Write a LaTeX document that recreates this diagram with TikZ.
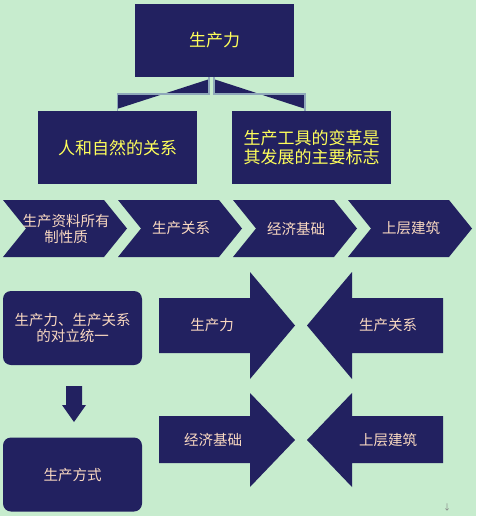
\documentclass[tikz,border=0pt]{standalone}
\usepackage{fontspec}
\newfontfamily\cjk{Noto Sans CJK SC}
\usetikzlibrary{positioning,calc}
\definecolor{navy}{RGB}{34,33,96}
\definecolor{bggreen}{RGB}{199,236,206}
\definecolor{linkgrey}{RGB}{143,168,186}
\definecolor{yellowtxt}{RGB}{255,255,90}
\definecolor{peachtxt}{RGB}{250,217,193}

\begin{document}
\begin{tikzpicture}[x=1pt,y=-1pt]
\tikzstyle{box} = [
	shape=rectangle,
	fill=navy, %dark blue boxes
	minimum width=159pt,
	minimum height=73pt,
	inner sep=0pt,
	align=center,
	text=yellowtxt,
	font=\cjk\fontsize{17}{19}\selectfont
];
\tikzstyle{roundbox} = [
	box,
	rounded corners=8pt,
	minimum width=139pt,
	minimum height=74pt,
	text=peachtxt,
	font=\cjk\fontsize{14.5}{16}\selectfont
];
\tikzstyle{label} = [
	inner sep=0pt,
	align=center,
	text=peachtxt,
	font=\cjk\fontsize{14.5}{16}\selectfont
];
\tikzstyle{elbow} = [draw=linkgrey, line width=1.5pt];

\fill[bggreen] (0,0) rectangle (476,516);
\useasboundingbox (0,0) rectangle (476,516);

% top tree
\node[box](PF) at (214.5, 40.5) {生产力};
\node[box](MN) at (117.5, 147.5) {人和自然的关系};
\node[box](TL) at (311.5, 147.5) {生产工具的变革是\\其发展的主要标志};

\coordinate (PFl) at ([xshift=-5.5pt]PF.south);
\coordinate (PFr) at ([xshift=-0.5pt]PF.south);
\coordinate (TLn) at ([xshift=-6.5pt]TL.north);

\fill[navy] ($(MN.north)+(0,-2)$) -- ($(MN.north)+(0,-17)$) -- ($(PFl)+(0,17)$) -- ($(PFl)+(0,2)$) -- cycle;
\fill[navy] ($(TLn)+(0,-2)$) -- ($(TLn)+(0,-17)$) -- ($(PFr)+(0,17)$) -- ($(PFr)+(0,2)$) -- cycle;
\draw[elbow] (MN.north) |- ($(PFl)+(0,17)$) -- (PFl);
\draw[elbow] (TLn) |- ($(PFr)+(0,17)$) -- (PFr);

% chevron row
\fill[navy] (3,200) -- (104,200) -- (127,228.5) -- (104,257) -- (3,257) -- (26,228.5) -- cycle;
\fill[navy] (118,200) -- (219,200) -- (242,228.5) -- (219,257) -- (118,257) -- (141,228.5) -- cycle;
\fill[navy] (233,200) -- (334,200) -- (357,228.5) -- (334,257) -- (233,257) -- (256,228.5) -- cycle;
\fill[navy] (348,200) -- (449,200) -- (472,228.5) -- (449,257) -- (348,257) -- (371,228.5) -- cycle;
\node[label](OW) at (66, 228.5) {生产资料所有\\制性质};
\node[label](RP) at (181, 228.5) {生产关系};
\node[label](EB) at (296, 228.5) {经济基础};
\node[label](SS) at (411, 228.5) {上层建筑};

% bottom left
\node[roundbox](UN) at (72.5, 328) {生产力、生产关系\\的对立统一};
\node[roundbox](MP) at (72.5, 474.5) {生产方式};
\fill[navy] (66,386) -- (82,386) -- (82,405) -- (86,405) -- (74,422) -- (62,405) -- (66,405) -- cycle;

% big arrows
\fill[navy] (159,298) -- (250,298) -- (250,272) -- (295,325.5) -- (250,379) -- (250,353) -- (159,353) -- cycle;
\fill[navy] (443,298) -- (352,298) -- (352,272) -- (307,325.5) -- (352,379) -- (352,353) -- (443,353) -- cycle;
\fill[navy] (159,416) -- (250,416) -- (250,393) -- (295,440) -- (250,487) -- (250,463) -- (159,463) -- cycle;
\fill[navy] (443,416) -- (352,416) -- (352,393) -- (307,440) -- (352,487) -- (352,463) -- (443,463) -- cycle;
\node[label](PFa) at (212, 325.5) {生产力};
\node[label](RPa) at (388, 325.5) {生产关系};
\node[label](EBa) at (213, 440) {经济基础};
\node[label](SSa) at (388, 440) {上层建筑};

\node[inner sep=0pt, text=gray, font=\cjk\fontsize{8}{8}\selectfont](MK) at (447, 507) {↓};
\end{tikzpicture}
\end{document}
